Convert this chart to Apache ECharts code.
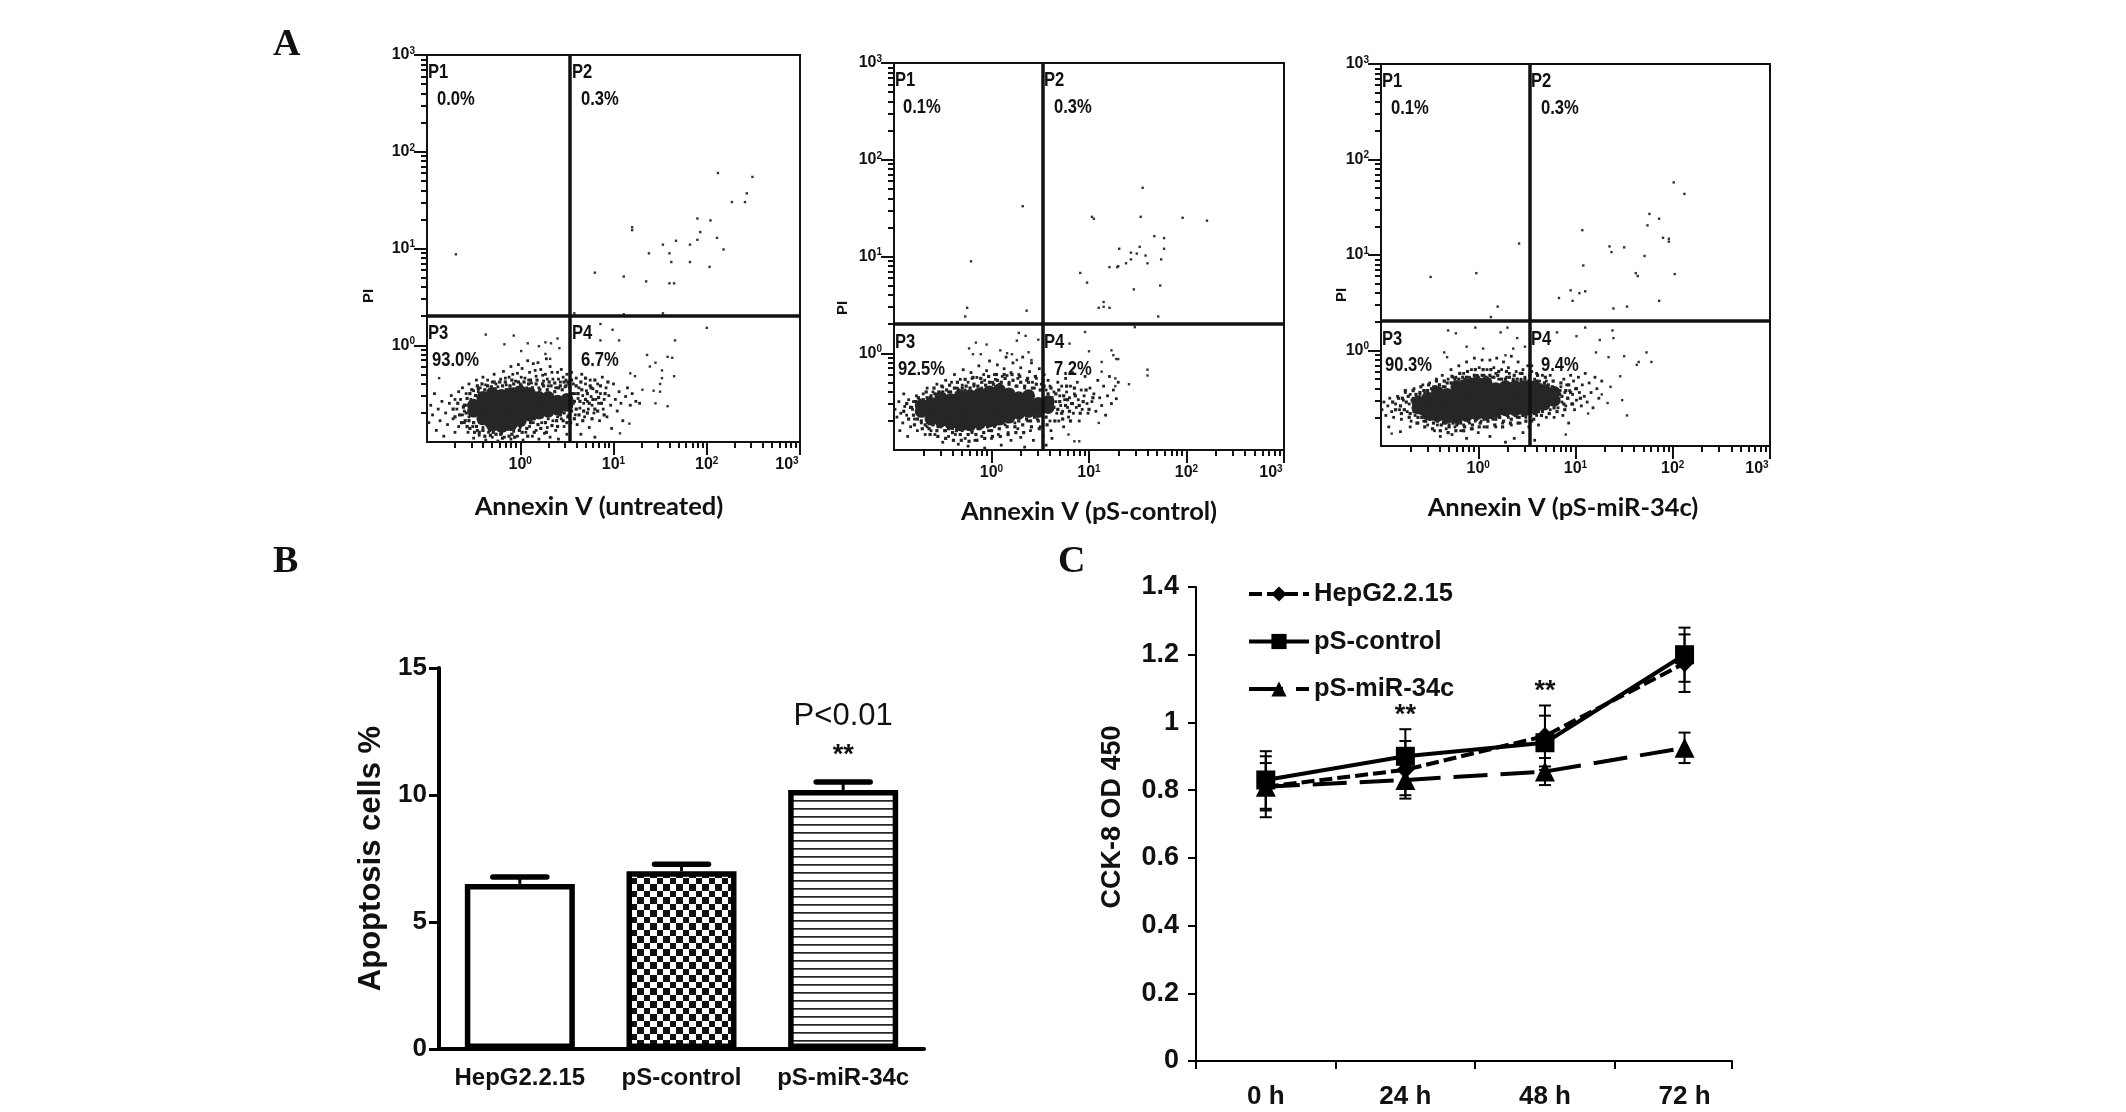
<!DOCTYPE html>
<html><head><meta charset="utf-8">
<style>html,body{margin:0;padding:0;background:#fff}#c{width:2126px;height:1112px}</style>
<script src="https://cdn.jsdelivr.net/npm/echarts@6/dist/echarts.min.js"></script>
</head><body><div id="c"></div>
<script>
// ---------- DATA ----------
// Flow panels: coordinates are log10(value).
// sparseN: individual outlying events.
// coreN, haloN, fringeN: NOT individual events. The reference has thousands of overlapping
// dots there, which cannot be read, so these are hand-placed points that only approximate
// the outline and density of each cloud. They carry no measured values.
const gateLogX = 0.527, gateLogY = 0.31;
const flowNames = ['Annexin V (untreated)', 'Annexin V (pS-control)', 'Annexin V (pS-miR-34c)'];
const quadrantNames = ['P1', 'P2', 'P3', 'P4'];
const quadrantPct = [['0.0%','0.3%','93.0%','6.7%'], ['0.1%','0.3%','92.5%','7.2%'], ['0.1%','0.3%','90.3%','9.4%']];
const decadeExponents = [0, 1, 2, 3];

const sparse1 = [[-.69,.94],[2.12,1.78],[2.49,1.74],[2.43,1.57],[2.27,1.48],[2.41,1.48],[1.90,1.31],[2.04,1.29],[1.93,1.17],[1.20,1.22],[1.20,1.19],[1.67,1.08],[1.53,1.04],[1.82,1.04],[1.90,1.09],[2.11,1.11],[2.18,.99],[1.38,.95],[1.60,.95],[1.62,.86],[1.82,.86],[2.03,.81],[.80,.75],[1.11,.71],[1.35,.66],[1.60,.64],[1.65,.64],[.58,.33],[1.11,.32],[1.53,.33],[2.0,.18],[1.66,.05],[1.65,-.32],[1.58,-.12],[1.63,-.13],[.86,.22],[.99,.16],[.86,.05],[1.06,.05],[1.36,-.10],[1.45,-.18],[1.39,-.22],[1.52,-.26],[1.52,-.34],[1.5,-.4],[1.5,-.48],[1.43,-.47],[1.45,-.6],[1.58,-.63],[1.31,-.46],[1.23,-.32],[1.18,-.29],[1.17,-.81],[1.07,-.91],[-.37,.11],[-.07,.10],[-.17,.01],[.08,.02],[.2,-.01],[.27,.03],[.40,.07],[.33,.02],[.42,-.03],[-.87,-.34],[.01,-.06],[.27,-.09],[.32,-.14]];
const core1 = [[-.5,-.68],[-.5,-.62],[-.4,-.76],[-.4,-.68],[-.4,-.6],[-.4,-.54],[-.3,-.82],[-.3,-.74],[-.3,-.66],[-.3,-.58],[-.3,-.5],[-.2,-.84],[-.2,-.76],[-.2,-.68],[-.2,-.6],[-.2,-.52],[-.1,-.82],[-.1,-.74],[-.1,-.66],[-.1,-.58],[-.1,-.5],[0,-.78],[0,-.7],[0,-.62],[0,-.54],[0,-.48],[.1,-.72],[.1,-.64],[.1,-.56],[.1,-.5],[.2,-.7],[.2,-.62],[.2,-.54],[.3,-.68],[.3,-.6],[.3,-.54],[.4,-.66],[.4,-.58],[.5,-.62],[.5,-.56]];
const halo1 = [[-.6,-.62],[-.58,-.7],[-.57,-.55],[-.55,-.78],[-.54,-.5],[-.52,-.66],[-.5,-.8],[-.48,-.52],[-.47,-.84],[-.45,-.45],[-.43,-.8],[-.42,-.5],[-.4,-.88],[-.38,-.46],[-.36,-.82],[-.35,-.5],[-.33,-.88],[-.31,-.43],[-.29,-.9],[-.27,-.45],[-.25,-.84],[-.23,-.48],[-.21,-.92],[-.19,-.42],[-.17,-.88],[-.15,-.46],[-.13,-.84],[-.11,-.42],[-.09,-.92],[-.07,-.4],[-.05,-.82],[-.03,-.44],[-.01,-.88],[.01,-.42],[.03,-.8],[.05,-.46],[.07,-.86],[.09,-.4],[.11,-.8],[.13,-.44],[.15,-.76],[.17,-.4],[.19,-.82],[.21,-.46],[.23,-.74],[.25,-.42],[.27,-.8],[.29,-.46],[.31,-.72],[.33,-.42],[.35,-.68],[.37,-.48],[.39,-.78],[.41,-.44],[.43,-.72],[.45,-.46],[.47,-.7],[.49,-.42],[.51,-.74],[.53,-.44],[.55,-.68],[.56,-.5],[.58,-.58],[.6,-.66],[.62,-.5],[.64,-.58],[.66,-.46],[.68,-.68],[.7,-.56],[.72,-.5],[.74,-.6],[.76,-.44],[.78,-.56],[.8,-.66],[.82,-.48],[.84,-.54],[.87,-.6],[.91,-.5],[-.72,-.66],[-.7,-.74],[-.67,-.6],[-.65,-.72],[-.63,-.8],[-.61,-.64],[-.59,-.78],[-.57,-.84],[-.54,-.86],[-.52,-.46],[-.49,-.9],[-.46,-.42],[-.44,-.9],[-.41,-.4],[-.38,-.94],[-.35,-.42],[-.32,-.93],[-.28,-.38],[-.26,-.92],[-.22,-.38],[-.19,-.96],[-.16,-.38],[-.12,-.94],[-.09,-.36],[-.06,-.95],[-.02,-.38],[.02,-.9],[.04,-.38],[.08,-.94],[.11,-.36],[.15,-.9],[.18,-.36],[.22,-.86],[.24,-.4],[.28,-.9],[.31,-.38],[.34,-.83],[.37,-.39],[.4,-.84],[.43,-.42],[.46,-.78],[.47,-.38],[.5,-.8],[.51,-.38],[.54,-.8],[.55,-.36],[.58,-.76],[.6,-.42],[.63,-.72],[.65,-.38],[.67,-.78],[.7,-.34],[.72,-.7],[.75,-.42],[.77,-.76],[.8,-.36],[.83,-.68],[.86,-.42],[.9,-.72],[.94,-.38]];
const fringe1 = [[-.62,-.44],[-.58,-.5],[-.55,-.4],[-.5,-.47],[-.47,-.36],[-.43,-.44],[-.4,-.33],[-.37,-.41],[-.33,-.46],[-.3,-.38],[-.28,-.3],[-.24,-.43],[-.21,-.35],[-.18,-.27],[-.15,-.41],[-.12,-.33],[-.1,-.22],[-.07,-.45],[-.05,-.37],[-.03,-.29],[0,-.4],[.02,-.24],[.05,-.34],[.07,-.44],[.1,-.28],[.12,-.39],[.14,-.19],[.17,-.32],[.2,-.44],[.22,-.25],[.25,-.37],[.27,-.3],[.3,-.42],[.32,-.22],[.35,-.35],[.38,-.44],[.4,-.28],[.43,-.38],[.46,-.33],[.48,-.43],[.5,-.3],[.52,-.4],[-.45,-.48],[-.35,-.36],[-.26,-.4],[-.16,-.34],[-.08,-.3],[.01,-.33],[.09,-.36],[.16,-.26],[.24,-.31],[.29,-.35],[.34,-.28],[.41,-.35],[.44,-.25],[.49,-.36],[-.02,-.2],[.08,-.16],[.19,-.18],[.28,-.14],[-.98,-.8],[-.96,-.62],[-.94,-.72],[-.92,-.5],[-.9,-.88],[-.88,-.66],[-.86,-.78],[-.84,-.58],[-.82,-.94],[-.8,-.7],[-.78,-.82],[-.76,-.6],[-.74,-.52],[-.72,-.76],[-.7,-.9],[-.68,-.66],[-.66,-.84],[-.64,-.56],[-.62,-.72],[-.6,-.8],[-.58,-.62],[-.56,-.9],[-.7,-.56],[-.66,-.48],[-.6,-.68],[-.55,-.74],[-.53,-.56],[-.51,-.84],[-.5,-.96],[-.46,-.88],[-.44,-.93],[-.4,-.85],[-.37,-.98],[-.34,-.9],[-.3,-.95],[-.27,-.87],[-.24,-.99],[-.2,-.91],[-.17,-.95],[-.14,-.87],[-.1,-.97],[-.07,-.89],[-.03,-.94],[0,-.85],[.03,-.98],[.06,-.9],[.1,-.84],[.13,-.94],[.17,-.88],[.2,-.97],[.23,-.8],[.26,-.91],[.29,-.85],[.32,-.95],[.35,-.78],[.38,-.88],[.41,-.97],[.44,-.76],[.47,-.84],[.5,-.92],[.52,-.72],[.14,-.8],[.3,-.76],[.4,-.74],[.55,-.28],[.57,-.4],[.57,-.6],[.59,-.5],[.59,-.72],[.6,-.34],[.61,-.82],[.62,-.55],[.63,-.44],[.64,-.65],[.65,-.92],[.66,-.3],[.67,-.52],[.68,-.6],[.69,-.74],[.7,-.4],[.71,-.47],[.72,-.58],[.73,-.66],[.74,-.85],[.75,-.36],[.76,-.53],[.77,-.62],[.78,-.45],[.79,-.7],[.8,-.95],[.81,-.56],[.83,-.4],[.84,-.6],[.85,-.78],[.86,-.5],[.88,-.33],[.89,-.66],[.9,-.56],[.92,-.44],[.93,-.74],[.95,-.52],[.97,-.62],[.98,-.86],[1,-.4],[1.02,-.56],[1.04,-.68],[1.06,-.48],[1.08,-.6],[1.1,-.78],[1.13,-.53],[1.15,-.44],[1.18,-.62],[1.2,-.5],[1.24,-.58],[1.28,-.6]];

const sparse2 = [[.32,1.52],[-.21,.95],[-.25,.47],[-.27,.38],[.36,.44],[1.55,1.71],[1.03,1.41],[1.05,1.39],[1.53,1.41],[1.96,1.40],[2.21,1.37],[1.67,1.21],[1.77,1.19],[1.52,1.10],[1.77,1.08],[1.31,1.08],[1.43,1.04],[1.49,1.03],[1.58,1.01],[1.43,.97],[1.74,.97],[1.60,.93],[1.38,.93],[1.30,.90],[1.29,.89],[1.21,.89],[.91,.83],[.98,.73],[1.46,.66],[1.73,.70],[1.15,.53],[1.15,.48],[1.10,.47],[1.21,.47],[1.71,.38],[1.47,.27],[.96,.22],[.8,.1],[1.0,.02],[1.23,.03],[1.25,-.02],[1.28,-.06],[1.3,-.06],[1.13,-.09],[1.13,-.19],[1.6,-.17],[1.6,-.23],[1.41,-.32],[1.27,-.26],[1.27,-.34],[.79,-.84],[.85,-.91],[.9,-.91],[1.1,-.72],[.28,.21],[.35,.18],[.26,.13],[.48,.14],[-.16,.11],[-.05,.09],[-.23,.05],[-.11,-.01],[-.19,-.01],[.09,.03],[.16,0],[.21,-.01],[.38,.01],[.26,-.07],[.41,-.07]];
const core2 = [[-.72,-.6],[-.72,-.54],[-.62,-.68],[-.62,-.6],[-.62,-.52],[-.52,-.7],[-.52,-.62],[-.52,-.54],[-.52,-.46],[-.42,-.72],[-.42,-.64],[-.42,-.56],[-.42,-.48],[-.32,-.74],[-.32,-.66],[-.32,-.58],[-.32,-.5],[-.32,-.44],[-.22,-.74],[-.22,-.66],[-.22,-.58],[-.22,-.5],[-.22,-.44],[-.12,-.72],[-.12,-.64],[-.12,-.56],[-.12,-.48],[-.12,-.42],[-.02,-.7],[-.02,-.62],[-.02,-.54],[-.02,-.46],[-.02,-.4],[.08,-.68],[.08,-.6],[.08,-.52],[.08,-.44],[.08,-.38],[.18,-.66],[.18,-.58],[.18,-.5],[.18,-.42],[.28,-.62],[.28,-.54],[.28,-.46],[.38,-.6],[.38,-.52],[.38,-.44],[.48,-.6],[.48,-.52],[.58,-.56],[.58,-.5]];
const halo2 = [[-.82,-.56],[-.8,-.64],[-.78,-.5],[-.76,-.68],[-.74,-.54],[-.72,-.7],[-.7,-.48],[-.68,-.74],[-.66,-.46],[-.64,-.78],[-.62,-.44],[-.6,-.74],[-.58,-.42],[-.56,-.8],[-.54,-.4],[-.52,-.76],[-.5,-.4],[-.48,-.8],[-.46,-.38],[-.44,-.78],[-.42,-.4],[-.4,-.82],[-.38,-.36],[-.36,-.8],[-.34,-.38],[-.32,-.84],[-.3,-.36],[-.28,-.78],[-.26,-.34],[-.24,-.84],[-.22,-.36],[-.2,-.8],[-.18,-.32],[-.16,-.84],[-.14,-.34],[-.12,-.78],[-.1,-.3],[-.08,-.82],[-.06,-.33],[-.04,-.76],[-.02,-.3],[0,-.8],[.02,-.32],[.04,-.74],[.06,-.28],[.08,-.78],[.1,-.3],[.12,-.72],[.14,-.26],[.16,-.76],[.18,-.32],[.2,-.7],[.22,-.28],[.24,-.76],[.26,-.34],[.28,-.7],[.3,-.3],[.32,-.74],[.34,-.34],[.36,-.68],[.38,-.3],[.4,-.7],[.42,-.36],[.44,-.66],[.46,-.32],[.48,-.7],[.5,-.38],[.52,-.64],[.54,-.34],[.56,-.66],[.58,-.42],[.6,-.6],[.62,-.46],[.64,-.56],[.66,-.42],[.68,-.58],[.7,-.5],[.72,-.62],[.74,-.44],[.76,-.54],[.78,-.48],[.8,-.6],[.83,-.52],[.86,-.44],[.9,-.54],[.94,-.5],[-.9,-.6],[-.87,-.52],[-.85,-.68],[-.83,-.56],[-.79,-.74],[-.75,-.46],[-.71,-.78],[-.67,-.4],[-.63,-.84],[-.59,-.36],[-.55,-.86],[-.51,-.34],[-.47,-.88],[-.43,-.33],[-.39,-.9],[-.35,-.3],[-.31,-.9],[-.27,-.27],[-.23,-.91],[-.19,-.25],[-.15,-.9],[-.11,-.26],[-.07,-.88],[-.03,-.24],[.01,-.86],[.05,-.22],[.09,-.86],[.13,-.22],[.17,-.84],[.21,-.22],[.25,-.82],[.29,-.24],[.33,-.82],[.37,-.26],[.41,-.76],[.45,-.24],[.49,-.78],[.53,-.28],[.57,-.74],[.61,-.36],[.65,-.7],[.69,-.38],[.73,-.68],[.77,-.34],[.81,-.7],[.85,-.36],[.91,-.62],[.97,-.38],[1,-.58],[1.04,-.46]];
const fringe2 = [[-.7,-.42],[-.66,-.36],[-.63,-.46],[-.6,-.4],[-.56,-.32],[-.54,-.42],[-.5,-.35],[-.47,-.28],[-.44,-.4],[-.41,-.3],[-.38,-.22],[-.35,-.36],[-.32,-.27],[-.29,-.17],[-.27,-.38],[-.24,-.3],[-.21,-.2],[-.18,-.34],[-.15,-.25],[-.13,-.13],[-.1,-.36],[-.07,-.28],[-.05,-.18],[-.02,-.08],[.01,-.3],[.03,-.22],[.06,-.12],[.08,-.32],[.11,-.24],[.13,-.16],[.15,-.04],[.18,-.3],[.2,-.2],[.22,-.1],[.25,-.34],[.27,-.26],[.3,-.15],[.32,-.04],[.34,-.36],[.36,-.28],[.39,-.19],[.41,-.1],[.44,-.36],[.46,-.26],[.49,-.16],[.51,-.32],[.54,-.22],[.56,-.38],[.58,-.28],[.6,-.34],[-.3,-.33],[-.2,-.26],[-.08,-.22],[.04,-.27],[.16,-.23],[.28,-.22],[.42,-.3],[-.99,-.58],[-.97,-.66],[-.95,-.5],[-.93,-.62],[-.91,-.72],[-.89,-.55],[-.87,-.64],[-.85,-.48],[-.83,-.76],[-.81,-.58],[-.79,-.68],[-.77,-.44],[-.75,-.62],[-.94,-.8],[-.86,-.86],[-.76,-.8],[-.9,-.42],[-.8,-.5],[-.72,-.72],[-.68,-.84],[-.74,-.48],[-.69,-.5],[-.66,-.76],[-.62,-.8],[-.58,-.84],[-.55,-.76],[-.5,-.92],[-.47,-.8],[-.44,-.86],[-.4,-.78],[-.37,-.84],[-.34,-.94],[-.3,-.8],[-.27,-.88],[-.24,-.96],[-.2,-.82],[-.17,-.9],[-.14,-.78],[-.1,-.86],[-.07,-.98],[-.03,-.8],[0,-.88],[.03,-.76],[.07,-.84],[.1,-.95],[.14,-.74],[.17,-.82],[.2,-.9],[.24,-.72],[.27,-.78],[.3,-.87],[.34,-.97],[.37,-.7],[.4,-.8],[.43,-.9],[.47,-.68],[.5,-.76],[.53,-.85],[.56,-.95],[.6,-.7],[.61,-.8],[.62,-.88],[.64,-.4],[.66,-.5],[.67,-.62],[.68,-.3],[.69,-.7],[.7,-.44],[.71,-.54],[.72,-.34],[.73,-.6],[.74,-.76],[.75,-.48],[.76,-.26],[.77,-.4],[.78,-.56],[.79,-.66],[.8,-.46],[.81,-.34],[.82,-.52],[.83,-.2],[.84,-.62],[.85,-.42],[.87,-.56],[.88,-.3],[.89,-.48],[.9,-.7],[.92,-.38],[.93,-.58],[.95,-.44],[.96,-.24],[.98,-.52],[.99,-.62],[1.01,-.36],[1.03,-.5],[1.05,-.42],[1.07,-.6],[1.09,-.28],[1.11,-.46],[1.13,-.54],[1.15,-.34],[1.17,-.64],[1.19,-.44],[1.21,-.24],[1.23,-.52],[1.25,-.38],[1.28,-.47],[1.3,-.3]];

const sparse3 = [[-.49,.77],[-.02,.81],[.42,1.12],[.2,.46],[.13,.35],[2.01,1.76],[2.12,1.64],[1.76,1.43],[1.86,1.38],[1.74,1.31],[1.07,1.26],[1.90,1.18],[1.96,1.17],[1.96,1.14],[1.35,1.09],[1.5,1.08],[1.37,1.03],[1.71,.99],[1.08,.89],[1.62,.81],[1.64,.78],[2.02,.80],[.83,.55],[.95,.63],[1.04,.6],[1.1,.62],[.97,.52],[1.39,.44],[1.53,.46],[1.86,.52],[1.1,.24],[1.38,.21],[1.39,.13],[1.25,.11],[1.01,.15],[.81,.19],[1.21,-.02],[1.34,-.07],[1.5,-.06],[1.73,-.02],[1.65,-.12],[1.78,-.12],[1.63,-.15],[1.46,-.27],[1.36,-.38],[1.48,-.52],[1.33,-.55],[1.53,-.68],[.9,-.88],[1.27,-.46],[1.13,-.66],[-.31,.21],[-.23,.18],[-.03,.24],[.23,.19],[.3,.24],[.4,.13],[.48,.04],[-.12,.04],[.05,.02],[-.35,-.02],[-.32,-.07],[.28,-.05],[.36,.02],[-.89,-.87]];
const core3 = [[-.62,-.6],[-.62,-.54],[-.52,-.66],[-.52,-.58],[-.52,-.5],[-.42,-.68],[-.42,-.6],[-.42,-.52],[-.42,-.44],[-.32,-.7],[-.32,-.62],[-.32,-.54],[-.32,-.46],[-.22,-.7],[-.22,-.62],[-.22,-.54],[-.22,-.46],[-.22,-.38],[-.12,-.68],[-.12,-.6],[-.12,-.52],[-.12,-.44],[-.12,-.36],[-.02,-.66],[-.02,-.58],[-.02,-.5],[-.02,-.42],[-.02,-.34],[.08,-.66],[.08,-.58],[.08,-.5],[.08,-.42],[.08,-.34],[.18,-.64],[.18,-.56],[.18,-.48],[.18,-.4],[.28,-.62],[.28,-.54],[.28,-.46],[.28,-.38],[.38,-.62],[.38,-.54],[.38,-.46],[.38,-.38],[.48,-.62],[.48,-.54],[.48,-.46],[.48,-.38],[.58,-.6],[.58,-.52],[.58,-.44],[.58,-.38],[.68,-.56],[.68,-.48],[.68,-.42],[.78,-.52],[.78,-.44]];
const halo3 = [[-.8,-.58],[-.78,-.5],[-.76,-.62],[-.74,-.54],[-.72,-.48],[-.7,-.66],[-.68,-.52],[-.66,-.64],[-.64,-.46],[-.62,-.7],[-.6,-.44],[-.58,-.7],[-.56,-.42],[-.54,-.74],[-.52,-.42],[-.5,-.72],[-.48,-.4],[-.46,-.76],[-.44,-.38],[-.42,-.74],[-.4,-.36],[-.38,-.78],[-.36,-.38],[-.34,-.76],[-.32,-.34],[-.3,-.8],[-.28,-.34],[-.26,-.76],[-.24,-.3],[-.22,-.78],[-.2,-.3],[-.18,-.76],[-.16,-.28],[-.14,-.8],[-.12,-.28],[-.1,-.74],[-.08,-.3],[-.06,-.78],[-.04,-.26],[-.02,-.72],[0,-.28],[.02,-.76],[.04,-.26],[.06,-.72],[.08,-.28],[.1,-.74],[.12,-.26],[.14,-.7],[.16,-.28],[.18,-.72],[.2,-.26],[.22,-.7],[.24,-.3],[.26,-.74],[.28,-.3],[.3,-.68],[.32,-.28],[.34,-.72],[.36,-.32],[.38,-.68],[.4,-.3],[.42,-.7],[.44,-.32],[.46,-.68],[.48,-.3],[.5,-.66],[.52,-.32],[.54,-.68],[.56,-.34],[.58,-.66],[.6,-.32],[.62,-.64],[.64,-.36],[.66,-.62],[.68,-.34],[.7,-.6],[.72,-.36],[.74,-.56],[.76,-.38],[.78,-.6],[.8,-.4],[.82,-.52],[.84,-.42],[.86,-.48],[.88,-.56],[.9,-.42],[.92,-.5],[.95,-.44],[-.88,-.54],[-.85,-.62],[-.82,-.5],[-.79,-.66],[-.75,-.42],[-.71,-.7],[-.67,-.42],[-.63,-.76],[-.59,-.38],[-.55,-.8],[-.51,-.36],[-.47,-.82],[-.43,-.32],[-.39,-.84],[-.35,-.32],[-.31,-.86],[-.27,-.27],[-.23,-.84],[-.19,-.24],[-.15,-.84],[-.11,-.22],[-.07,-.82],[-.03,-.2],[.01,-.8],[.05,-.2],[.09,-.8],[.13,-.2],[.17,-.78],[.21,-.22],[.25,-.8],[.29,-.22],[.33,-.76],[.37,-.26],[.41,-.76],[.45,-.24],[.49,-.74],[.53,-.26],[.57,-.72],[.61,-.26],[.65,-.68],[.69,-.28],[.73,-.66],[.77,-.32],[.81,-.64],[.85,-.34],[.89,-.62],[.93,-.36],[.97,-.56],[1.01,-.4],[1.05,-.5]];
const fringe3 = [[-.7,-.46],[-.66,-.4],[-.6,-.46],[-.57,-.36],[-.53,-.42],[-.5,-.34],[-.46,-.38],[-.43,-.3],[-.4,-.36],[-.37,-.26],[-.34,-.38],[-.31,-.3],[-.28,-.2],[-.26,-.34],[-.23,-.28],[-.2,-.16],[-.17,-.32],[-.15,-.24],[-.12,-.12],[-.09,-.28],[-.07,-.2],[-.04,-.08],[-.01,-.26],[.01,-.18],[.04,-.1],[.06,-.26],[.09,-.2],[.12,-.1],[.14,-.28],[.16,-.18],[.19,-.08],[.21,-.3],[.24,-.2],[.26,-.12],[.29,-.28],[.31,-.18],[.34,-.06],[.36,-.3],[.39,-.22],[.41,-.12],[.44,-.3],[.46,-.2],[.48,-.28],[.51,-.16],[.53,-.3],[.55,-.22],[.58,-.3],[.6,-.24],[.63,-.32],[.66,-.26],[.7,-.32],[.74,-.26],[-.26,-.28],[-.14,-.3],[.02,-.3],[.18,-.24],[.32,-.24],[.43,-.24],[.55,-.16],[-.99,-.62],[-.97,-.54],[-.95,-.68],[-.93,-.58],[-.91,-.5],[-.89,-.64],[-.87,-.7],[-.85,-.56],[-.83,-.48],[-.81,-.62],[-.79,-.72],[-.77,-.52],[-.75,-.44],[-.73,-.64],[-.71,-.56],[-.69,-.74],[-.67,-.5],[-.65,-.68],[-.62,-.76],[-.59,-.66],[-.56,-.74],[-.92,-.8],[-.8,-.85],[-.7,-.8],[-.55,-.45],[-.52,-.78],[-.48,-.72],[-.45,-.84],[-.42,-.78],[-.39,-.9],[-.36,-.76],[-.33,-.82],[-.3,-.78],[-.27,-.88],[-.24,-.8],[-.21,-.76],[-.18,-.84],[-.15,-.78],[-.12,-.92],[-.09,-.76],[-.06,-.82],[-.03,-.74],[0,-.86],[.03,-.74],[.06,-.8],[.09,-.72],[.12,-.9],[.15,-.72],[.18,-.8],[.22,-.7],[.25,-.76],[.28,-.96],[.31,-.7],[.34,-.78],[.37,-.92],[.4,-.7],[.43,-.76],[.46,-.86],[.49,-.7],[.52,-.8],[.55,-.74],[.58,-.94],[.6,-.68],[.62,-.78],[.66,-.64],[.7,-.7],[.74,-.62],[.78,-.7],[.82,-.6],[.84,-.46],[.85,-.38],[.86,-.54],[.87,-.68],[.88,-.3],[.89,-.44],[.9,-.58],[.91,-.36],[.92,-.5],[.93,-.76],[.94,-.42],[.95,-.26],[.96,-.56],[.97,-.46],[.98,-.32],[.99,-.62],[1,-.4],[1.01,-.52],[1.03,-.28],[1.04,-.44],[1.06,-.58],[1.07,-.36],[1.09,-.48],[1.1,-.24],[1.12,-.54],[1.14,-.34],[1.16,-.44],[1.18,-.6],[1.2,-.28],[1.22,-.4],[1.24,-.5],[1.27,-.32]];

// Panel B
const apoptosisGroups = ['HepG2.2.15', 'pS-control', 'pS-miR-34c'];
const apoptosisMean = [6.5, 7.0, 10.2];
const apoptosisCap = [6.77, 7.27, 10.51];
const apoptosisTicks = [0, 5, 10, 15];

// Panel C
const timePoints = ['0 h', '24 h', '48 h', '72 h'];
const hepMean = [0.81, 0.86, 0.96, 1.175];
const hepErr = [0.09, 0.085, 0.09, 0.085];
const controlMean = [0.83, 0.90, 0.94, 1.20];
const controlErr = [0.085, 0.08, 0.08, 0.08];
const mirMean = [0.81, 0.83, 0.855, 0.925];
const mirErr = [0.07, 0.045, 0.04, 0.045];

// ---------- LAYOUT ----------
const BOLD = "'Liberation Sans', Arial, sans-serif";
const flowGrids = [
  {left:427, top:55, width:373, height:387},
  {left:894, top:63, width:390, height:387},
  {left:1381, top:64, width:389, height:382}
];
const flowTitlePos = [[599,507],[1089,512],[1563,508]];
const piPos = [[369,296],[843,308],[1342,295]];
const nameRows = [[72,333],[80,342],[81,339]];
const pctRows = [[99,360],[107,369],[108,365]];
const nameCols = [[428,572],[895,1044],[1382,1531]];
const pctCols = [[437,581,432,581],[903,1054,898,1054],[1391,1541,1385,1541]];

const minorLogs = [];
for (let k = -1; k < 3; k++) for (let m = 2; m <= 9; m++) minorLogs.push(k + Math.log10(m));

const decadeLabelY = v => '{b|10}{s|' + v + '}';
const decadeLabelX = v => decadeLabelY(v) + (v === 3 ? '{pad|}' : '');
const decadeRich = {
  b:{fontFamily:BOLD, fontWeight:'bold', fontSize:16, color:'#111'},
  s:{fontFamily:BOLD, fontWeight:'bold', fontSize:10, color:'#111', padding:[0,0,8,0]},
  pad:{width:26}
};

const grid = [], xAxis = [], yAxis = [], series = [], graphic = [];
function addAxes(g, isY, cfg) { (isY ? yAxis : xAxis).push(Object.assign({gridIndex:g, position:isY?'left':'bottom'}, cfg)); return (isY ? yAxis : xAxis).length - 1; }

function flowPanel(p, sparse, core, halo, fringe) {
  grid.push(Object.assign({show:true, borderColor:'#111', borderWidth:2, backgroundColor:'#fff'}, flowGrids[p]));
  const g = grid.length - 1;
  const base = {type:'value', min:-1, max:3, splitLine:{show:false}};
  const major = dim => Object.assign({}, base, {
    axisLine:{show:false, onZero:false},
    axisTick:{show:true, length:13, customValues:decadeExponents, lineStyle:{color:'#111', width:2}},
    axisLabel:{show:true, customValues:decadeExponents, margin: dim==='x'?14:12, formatter: dim==='x'?decadeLabelX:decadeLabelY, rich:decadeRich}
  });
  const minor = Object.assign({}, base, {
    axisLine:{show:false, onZero:false},
    axisTick:{show:true, length:6, customValues:minorLogs, lineStyle:{color:'#111', width:2}},
    axisLabel:{show:false}
  });
  const xi = addAxes(g, false, major('x'));
  addAxes(g, false, minor);
  const yi = addAxes(g, true, major('y'));
  addAxes(g, true, minor);
  const dots = (tag, data, size, color) => ({type:'scatter', name:'flow'+p+' '+tag, xAxisIndex:xi, yAxisIndex:yi, symbol:'rect', symbolSize:size, silent:true, itemStyle:{color, opacity:1}, data, z:3});
  series.push(dots('fringe', fringe, 2.8, '#222'));
  series.push(dots('halo', halo, 3.2, '#222'));
  series.push(dots('sparse', sparse, 2.4, '#333'));
  series.push({type:'scatter', name:'flow'+p+' core', xAxisIndex:xi, yAxisIndex:yi, symbol:'circle', symbolSize:13, silent:true, itemStyle:{color:'#262626', opacity:1}, data:core, z:3,
    markLine:{silent:true, symbol:'none', animation:false, label:{show:false}, lineStyle:{color:'#111', width:3.5, type:'solid'}, data:[{xAxis:gateLogX},{yAxis:gateLogY}], z:6}
  });
  graphic.push({type:'text', x:flowTitlePos[p][0], y:flowTitlePos[p][1], style:{text:flowNames[p], font:"bold 25.5px Lato, 'Open Sans', sans-serif", fill:'#111', align:'center', verticalAlign:'middle'}});
  graphic.push({type:'text', x:piPos[p][0], y:piPos[p][1], rotation:Math.PI/2, style:{text:'PI', font:"bold 15px "+BOLD, fill:'#111', align:'center', verticalAlign:'middle'}});
  quadrantNames.forEach((q, i) => {
    const row = i < 2 ? 0 : 1, col = i % 2;
    graphic.push({type:'text', x:nameCols[p][col], y:nameRows[p][row], z:10, scaleX:.83, style:{text:q, font:"bold 20px "+BOLD, fill:'#111', align:'left', verticalAlign:'middle'}});
    graphic.push({type:'text', x:pctCols[p][i], y:pctRows[p][row], z:10, scaleX:.83, style:{text:quadrantPct[p][i], font:"bold 20px "+BOLD, fill:'#111', align:'left', verticalAlign:'middle'}});
  });
}
flowPanel(0, sparse1, core1, halo1, fringe1);
flowPanel(1, sparse2, core2, halo2, fringe2);
flowPanel(2, sparse3, core3, halo3, fringe3);

function checkerPattern() {
  const c = document.createElement('canvas'); c.width = 13; c.height = 13;
  const t = c.getContext('2d'); t.fillStyle = '#fff'; t.fillRect(0,0,13,13);
  t.fillStyle = '#111'; t.fillRect(0,0,7,7); t.fillRect(7,7,6,6);
  return {image:c, repeat:'repeat'};
}
function stripePattern() {
  const c = document.createElement('canvas'); c.width = 8; c.height = 8;
  const t = c.getContext('2d'); t.fillStyle = '#fff'; t.fillRect(0,0,8,8);
  t.fillStyle = '#222'; t.fillRect(0,0,8,1.7);
  return {image:c, repeat:'repeat'};
}

// Panel B
grid.push({left:439, top:668, width:485, height:381});
{
  const g = grid.length - 1;
  const xi = addAxes(g, false, {type:'category', data:apoptosisGroups,
    axisLine:{lineStyle:{color:'#000', width:4}}, axisTick:{alignWithLabel:true, length:11, lineStyle:{color:'#000', width:3}},
    axisLabel:{color:'#111', fontFamily:BOLD, fontWeight:'bold', fontSize:24, margin:17, interval:0}});
  const yi = addAxes(g, true, {type:'value', min:0, max:15, interval:5,
    name:'Apoptosis cells %', nameLocation:'middle', nameGap:52, nameTextStyle:{fontFamily:BOLD, fontWeight:'bold', fontSize:31, color:'#111'},
    splitLine:{show:false}, axisLine:{show:true, lineStyle:{color:'#000', width:4}}, axisTick:{show:true, length:10, lineStyle:{color:'#000', width:3}},
    axisLabel:{color:'#111', fontFamily:BOLD, fontWeight:'bold', fontSize:26, margin:12, customValues:apoptosisTicks}});
  const fills = ['#fff', checkerPattern(), stripePattern()];
  series.push({type:'custom', name:'apoptosis error', xAxisIndex:xi, yAxisIndex:yi, silent:true, z:2, clip:false,
    data:apoptosisMean.map((m,i)=>[i,m,apoptosisCap[i]]),
    renderItem(params, api){
      const a = api.coord([api.value(0), api.value(1)]), b = api.coord([api.value(0), api.value(2)]);
      return {type:'group', children:[
        {type:'line', shape:{x1:a[0],y1:a[1],x2:b[0],y2:b[1]}, style:{stroke:'#000',lineWidth:3}},
        {type:'line', shape:{x1:b[0]-27,y1:b[1],x2:b[0]+27,y2:b[1]}, style:{stroke:'#000',lineWidth:5.5,lineCap:'round'}}
      ]};
    }});
  series.push({type:'bar', name:'apoptosis', xAxisIndex:xi, yAxisIndex:yi, barWidth:110, silent:true, z:3,
    data:apoptosisMean.map((m,i)=>({value:m, itemStyle:{color:fills[i], borderColor:'#000', borderWidth:5.5}}))});
  series.push({type:'scatter', name:'apoptosis note', xAxisIndex:xi, yAxisIndex:yi, symbolSize:0, silent:true, z:5, itemStyle:{opacity:1},
    data:[{value:[2,13.1], label:{formatter:'P<0.01', fontFamily:BOLD, fontSize:31, color:'#111'}},
          {value:[2,11.55], label:{formatter:'**', fontFamily:BOLD, fontWeight:'bold', fontSize:27, color:'#111'}}],
    label:{show:true, position:'inside'}});
}

// Panel C
grid.push({left:1196, top:587, width:536, height:474});
{
  const g = grid.length - 1;
  const xEnd = 3.84;
  const xi = addAxes(g, false, {type:'value', min:0, max:xEnd, splitLine:{show:false},
    axisLine:{lineStyle:{color:'#000', width:2}},
    axisTick:{show:true, length:8, customValues:[0,1,2,3,xEnd], lineStyle:{color:'#000', width:2}},
    axisLabel:{show:true, color:'#111', fontFamily:BOLD, fontWeight:'bold', fontSize:26, margin:23, customValues:timePoints.map((t,i)=>i+0.5),
      formatter:v=>timePoints[Math.floor(v)]}});
  const yi = addAxes(g, true, {type:'value', min:0, max:1.4, interval:0.2,
    splitLine:{show:false}, axisLine:{show:true, lineStyle:{color:'#000', width:2}}, axisTick:{show:true, length:8, lineStyle:{color:'#000', width:2}},
    axisLabel:{color:'#111', fontFamily:BOLD, fontWeight:'bold', fontSize:27, margin:17, formatter:v=>String(+v.toFixed(1))}});
  const errorSeries = (name, mean, err) => ({type:'custom', name, xAxisIndex:xi, yAxisIndex:yi, silent:true, z:2, clip:false,
    data:mean.map((m,i)=>[i+0.5,m-err[i],m+err[i]]),
    renderItem(params, api){
      const a = api.coord([api.value(0), api.value(1)]), b = api.coord([api.value(0), api.value(2)]);
      const cap = (p)=>({type:'line', shape:{x1:p[0]-6,y1:p[1],x2:p[0]+6,y2:p[1]}, style:{stroke:'#000',lineWidth:2}});
      return {type:'group', children:[{type:'line', shape:{x1:a[0],y1:a[1],x2:b[0],y2:b[1]}, style:{stroke:'#000',lineWidth:2}}, cap(a), cap(b)]};
    }});
  const line = (name, mean, symbol, size, dash, z) => ({type:'line', name, xAxisIndex:xi, yAxisIndex:yi, silent:true, z, clip:false,
    data:mean.map((m,i)=>[i+0.5,m]), symbol, symbolSize:size, showSymbol:true,
    lineStyle:{color:'#000', width:4, type:dash, cap:'butt'}, itemStyle:{color:'#000', borderWidth:0}});
  series.push(errorSeries('HepG2.2.15 error', hepMean, hepErr));
  series.push(errorSeries('pS-control error', controlMean, controlErr));
  series.push(errorSeries('pS-miR-34c error', mirMean, mirErr));
  series.push(line('HepG2.2.15', hepMean, 'diamond', 18, [13,5], 4));
  series.push(line('pS-miR-34c', mirMean, 'triangle', 20, [34,13], 4));
  series.push(line('pS-control', controlMean, 'rect', 19, 'solid', 5));
  series.push({type:'scatter', name:'viability note', xAxisIndex:xi, yAxisIndex:yi, symbolSize:0, silent:true, z:6, itemStyle:{opacity:1},
    data:[{value:[1.5,1.02]},{value:[2.5,1.09]}],
    label:{show:true, position:'inside', formatter:'**', fontFamily:BOLD, fontWeight:'bold', fontSize:27, color:'#111'}});
  graphic.push({type:'text', x:1113, y:817, rotation:Math.PI/2, style:{text:'CCK-8 OD 450', font:"bold 27px "+BOLD, fill:'#111', align:'center', verticalAlign:'middle'}});
}

// Panel letters
[['A',273,45],['B',273,562],['C',1058,562]].forEach(l => graphic.push({type:'text', x:l[1], y:l[2],
  style:{text:l[0], font:"bold 38px 'Liberation Serif', serif", fill:'#111', align:'left', verticalAlign:'middle'}}));

const chart = echarts.init(document.getElementById('c'), null, {renderer:'canvas'});
chart.setOption({
  animation:false, backgroundColor:'#fff', tooltip:{show:false},
  legend:{show:true, orient:'vertical', left:1242, top:576, itemWidth:60, itemHeight:19, itemGap:21.5,
    data:['HepG2.2.15','pS-control','pS-miR-34c'], selectedMode:false, lineStyle:{width:4}, itemStyle:{},
    textStyle:{fontFamily:BOLD, fontWeight:'bold', fontSize:25.5, color:'#111'}},
  grid, xAxis, yAxis, series, graphic
});
</script></body></html>
